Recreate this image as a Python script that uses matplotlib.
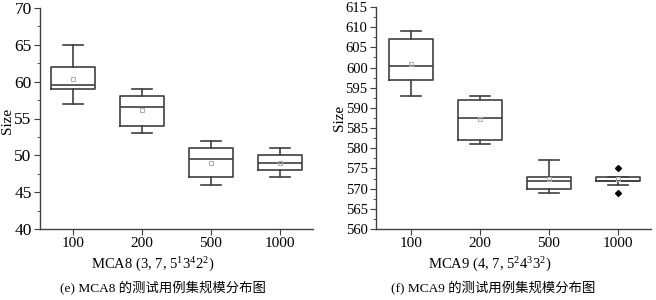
import matplotlib
matplotlib.use("Agg")
import matplotlib.pyplot as plt
from matplotlib.ticker import MultipleLocator

plt.rcParams['font.family'] = ['Liberation Serif', 'Noto Sans CJK SC']
plt.rcParams['mathtext.fontset'] = 'custom'
plt.rcParams['mathtext.rm'] = 'Liberation Serif'
plt.rcParams['mathtext.it'] = 'Liberation Serif:italic'

categories = ['100', '200', '500', '1000']

# MCA8
mca8_whislo = [57, 53, 46, 47]
mca8_q1 = [59, 54, 47, 48]
mca8_med = [59.5, 56.5, 49.5, 49]
mca8_q3 = [62, 58, 51, 50]
mca8_whishi = [65, 59, 52, 51]
mca8_mean = [60.4, 56.2, 49.0, 49.0]
mca8_fliers = [[], [], [], []]

# MCA9
mca9_whislo = [593, 581, 569, 571]
mca9_q1 = [597, 582, 570, 572]
mca9_med = [600.5, 587.5, 572, 572]
mca9_q3 = [607, 592, 573, 573]
mca9_whishi = [609, 593, 577, 573]
mca9_mean = [601.0, 587.2, 572.3, 572.3]
mca9_fliers = [[], [], [], [575, 569]]

line_c = '#404040'
W, H = 656, 300

def make_stats(lo, q1, med, q3, hi, mean, fl):
    return [dict(whislo=a, q1=b, med=c, q3=d, whishi=e, mean=m, fliers=f, label=lab)
            for a, b, c, d, e, m, f, lab in zip(lo, q1, med, q3, hi, mean, fl, categories)]

def draw(ax, stats, xlim, ylim, ylab_fs):
    ax.bxp(stats, positions=range(1, len(stats) + 1), widths=0.64, showmeans=True,
           showfliers=True, patch_artist=False,
           boxprops=dict(color=line_c, linewidth=1.2),
           medianprops=dict(color=line_c, linewidth=1.2),
           whiskerprops=dict(color=line_c, linewidth=1.2),
           capprops=dict(color=line_c, linewidth=1.2),
           capwidths=0.3,
           meanprops=dict(marker='s', markersize=3, markerfacecolor='none',
                          markeredgecolor='#b0b0b0', markeredgewidth=0.8),
           flierprops=dict(marker='D', markersize=3, markerfacecolor='black',
                           markeredgecolor='black'))
    ax.set_xlim(*xlim)
    ax.set_ylim(*ylim)
    ax.yaxis.set_major_locator(MultipleLocator(5))
    ax.yaxis.set_minor_locator(MultipleLocator(2.5))
    for s in ['top', 'right']:
        ax.spines[s].set_visible(False)
    for s in ['left', 'bottom']:
        ax.spines[s].set_color(line_c)
        ax.spines[s].set_linewidth(1.0)
    ax.tick_params(axis='both', which='major', direction='out', length=4, color=line_c, pad=2)
    ax.tick_params(axis='x', labelsize=11)
    ax.tick_params(axis='y', labelsize=ylab_fs)
    ax.tick_params(axis='y', which='minor', direction='out', length=2, color=line_c)

fig = plt.figure(figsize=(6.56, 3.0), dpi=100)
ax1 = fig.add_axes([40 / W, 1 - 229 / H, 273 / W, 221 / H])
ax2 = fig.add_axes([376 / W, 1 - 229 / H, 275 / W, 222 / H])

draw(ax1, make_stats(mca8_whislo, mca8_q1, mca8_med, mca8_q3, mca8_whishi, mca8_mean, mca8_fliers),
     (0.52, 4.48), (40, 70), 12.5)
draw(ax2, make_stats(mca9_whislo, mca9_q1, mca9_med, mca9_q3, mca9_whishi, mca9_mean, mca9_fliers),
     (0.49, 4.48), (560, 615), 10.5)

fig.text(8 / W, 1 - 121 / H, 'Size', rotation=90, ha='center', va='center', fontsize=11)
fig.text(339 / W, 1 - 118 / H, 'Size', rotation=90, ha='center', va='center', fontsize=11)
fig.text(153 / W, 1 - 265 / H, r'MCA8 (3, 7, 5$^{1}$3$^{4}$2$^{2}$)', ha='center', va='center', fontsize=10.5)
fig.text(490 / W, 1 - 265 / H, r'MCA9 (4, 7, 5$^{2}$4$^{3}$3$^{2}$)', ha='center', va='center', fontsize=10.5)
fig.text(163 / W, 1 - 287 / H, '(e) MCA8 的测试用例集规模分布图', ha='center', va='center', fontsize=9.6)
fig.text(493 / W, 1 - 287 / H, '(f) MCA9 的测试用例集规模分布图', ha='center', va='center', fontsize=9.6)

fig.savefig('out.png', dpi=100)
